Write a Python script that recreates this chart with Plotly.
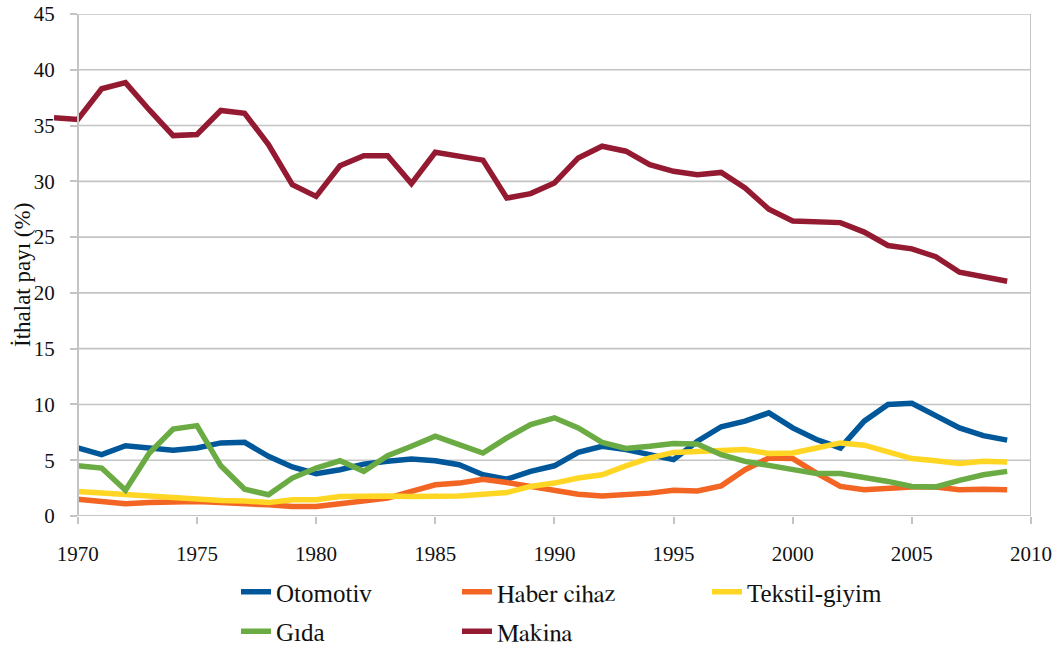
import plotly.graph_objects as go

years = list(range(1970, 2010))
years_makina = list(range(1969, 2010))

otomotiv = [6.1, 5.5, 6.3, 6.15, 5.9, 6.1, 6.55, 6.6, 5.35, 4.4,
            3.8, 4.15, 4.65, 4.9, 5.1, 4.95, 4.6, 3.7, 3.3, 4.0,
            4.5, 5.7, 6.25, 5.95, 5.5, 5.05, 6.7, 8.0, 8.5, 9.25,
            7.9, 6.85, 6.1, 8.5, 10.0, 10.1, 9.0, 7.9, 7.2, 6.8]
haber = [1.5, 1.35, 1.1, 1.2, 1.25, 1.3, 1.2, 1.15, 1.0, 0.85,
         0.85, 1.1, 1.3, 1.6, 2.2, 2.8, 2.95, 3.3, 3.0, 2.65,
         2.2, 1.95, 1.8, 1.9, 2.05, 2.3, 2.25, 2.7, 4.15, 5.2,
         5.15, 3.85, 2.65, 2.35, 2.5, 2.6, 2.6, 2.35, 2.4, 2.35]
tekstil = [2.2, 2.05, 1.9, 1.75, 1.6, 1.55, 1.4, 1.35, 1.2, 1.45,
           1.45, 1.75, 1.8, 1.8, 1.75, 1.75, 1.8, 1.95, 2.1, 2.65,
           2.95, 3.4, 3.7, 4.5, 5.2, 5.7, 5.8, 5.8, 5.95, 5.6,
           5.65, 6.1, 6.55, 6.35, 5.7, 5.15, 4.95, 4.7, 4.9, 4.85]
gida = [4.5, 4.3, 2.3, 5.65, 7.8, 8.1, 4.5, 2.4, 1.9, 3.4,
        4.3, 4.95, 4.0, 5.4, 6.25, 7.15, 6.4, 5.65, 7.0, 8.2,
        8.8, 7.9, 6.6, 6.05, 6.25, 6.5, 6.45, 5.5, 4.9, 4.5,
        4.2, 3.8, 3.8, 3.5, 3.1, 2.65, 2.6, 3.2, 3.7, 4.0]
makina = [35.7, 35.55, 38.3, 38.85, 36.4, 34.1, 34.2, 36.35, 36.1, 33.3,
          29.7, 28.65, 31.4, 32.3, 32.3, 29.8, 32.6, 32.2, 31.9, 28.5,
          28.9, 29.85, 32.1, 33.15, 32.7, 31.5, 30.9, 30.6, 30.8, 29.4,
          27.5, 26.45, 26.4, 26.3, 25.45, 24.25, 23.95, 23.25, 21.85, 21.5,
          21.05]

names = ["Otomotiv", "Haber cihaz", "Tekstil-giyim", "Gıda", "Makina"]
colors = ["#00589A", "#F26522", "#FFD623", "#6AAB43", "#941A32"]
y_ticks = list(range(0, 50, 5))
x_ticks = list(range(1970, 2015, 5))

FONT = ("Liberation Serif, Noto Serif, DejaVu Serif, FreeSerif, "
        "Nimbus Roman, Times New Roman, Times, serif")
GRID = "#C4C4C4"

W, H = 1063, 648
ml, mr, mt, mb = 54, 32, 14, 132
plot_w = W - ml - mr
plot_h = H - mt - mb
x_lo = years_makina[0]
x_hi = x_ticks[-1]
y_axis_pos = (x_ticks[0] - x_lo) / (x_hi - x_lo)


def px_to_paper_x(px):
    return (px - ml) / plot_w


def px_to_paper_y(py):
    return (H - mb - py) / plot_h


fig = go.Figure()
all_x = [years, years, years, years, years_makina]
all_y = [otomotiv, haber, tekstil, gida, makina]
legend_of = ["legend", "legend2", "legend3", "legend", "legend2"]
for i in range(5):
    fig.add_trace(go.Scatter(
        x=all_x[i], y=all_y[i], mode="lines", name=names[i],
        line=dict(color=colors[i], width=5.5),
        legend=legend_of[i], legendgroup=names[i],
    ))

shapes = []
for v in y_ticks:
    shapes.append(dict(
        type="line", xref="x", yref="y", layer="below",
        x0=x_ticks[0], x1=x_ticks[-1], y0=v, y1=v,
        line=dict(color=GRID, width=2 if v == 0 else 1.6),
    ))
shapes.append(dict(
    type="line", xref="x", yref="y", layer="below",
    x0=x_ticks[-1], x1=x_ticks[-1], y0=y_ticks[0], y1=y_ticks[-1],
    line=dict(color=GRID, width=2),
))

tickfont = dict(family=FONT, size=21, color="#111111")

fig.update_layout(
    width=W, height=H,
    font=dict(family=FONT, color="#111111"),
    margin=dict(l=ml, r=mr, t=mt, b=mb, autoexpand=False),
    paper_bgcolor="white", plot_bgcolor="white",
    xaxis=dict(
        range=[x_lo, x_hi], automargin=False,
        tickvals=x_ticks, ticktext=[str(v) for v in x_ticks],
        showgrid=False, zeroline=False, showline=False,
        ticks="outside", ticklen=7, tickwidth=2, tickcolor=GRID,
        tickfont=tickfont, ticklabelstandoff=12,
    ),
    yaxis=dict(
        anchor="free", position=y_axis_pos, automargin=False,
        range=[0, 45], tickvals=y_ticks,
        showgrid=False, zeroline=False,
        showline=True, linecolor=GRID, linewidth=2,
        ticks="outside", ticklen=7, tickwidth=2, tickcolor=GRID,
        tickfont=tickfont, ticklabelstandoff=11,
    ),
    shapes=shapes,
    annotations=[dict(
        text="İthalat payı (%)", textangle=-90,
        xref="paper", yref="paper",
        x=px_to_paper_x(22), y=px_to_paper_y(275),
        xanchor="center", yanchor="middle", showarrow=False,
        font=dict(family=FONT, size=23, color="#111111"),
    )],
    showlegend=True,
)

leg_common = dict(
    orientation="v", traceorder="grouped", tracegroupgap=4,
    bgcolor="rgba(0,0,0,0)", borderwidth=0,
    xref="container", yref="container",
    yanchor="top", xanchor="left", itemwidth=30,
)
leg_top = 1 - 569 / H
fig.update_layout(
    legend=dict(x=236 / W, y=leg_top,
                font=dict(family="Nimbus Roman, Times, serif", size=25, color="#111111"),
                **leg_common),
    legend2=dict(x=457 / W, y=leg_top,
                 font=dict(family="FreeSerif, Times New Roman, serif", size=25, color="#111111"),
                 **leg_common),
    legend3=dict(x=707 / W, y=leg_top,
                 font=dict(family=FONT, size=25, color="#111111"),
                 **leg_common),
)

fig.write_html(
    "out.html",
    config={"displayModeBar": False},
    post_script="document.body.style.margin='0';document.body.style.padding='0';",
)
